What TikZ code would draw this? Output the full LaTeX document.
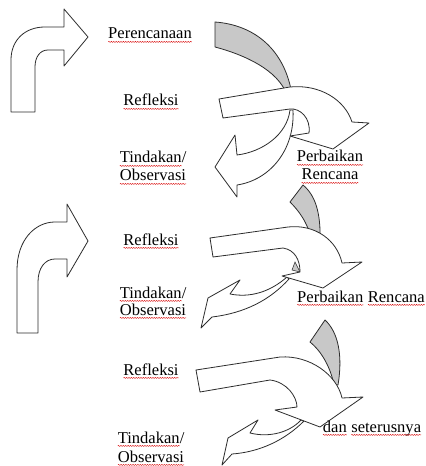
\documentclass[tikz,border=0pt]{standalone}
\usepackage{fontspec}
\setmainfont{Liberation Serif}
\usetikzlibrary{decorations.pathmorphing}
\definecolor{sh}{RGB}{200,200,200}
\definecolor{ol}{RGB}{45,45,45}
\tikzset{
  shp/.style={draw=ol, line width=0.6pt, fill=white, line join=round},
  gshp/.style={shp, fill=sh},
  wavy/.style={red!85!black, line width=0.3pt, decorate, decoration={snake, amplitude=0.4pt, segment length=1.8pt}},
  txt/.style={inner sep=0pt, font=\fontsize{12.4}{14}\selectfont, anchor=base}
}
\newcommand{\wv}[1]{\tikz[baseline=(w.base)]{\node[inner sep=0pt,outer sep=0pt](w){#1};\draw[wavy]([yshift=-2.2pt]w.base west)--([yshift=-2.2pt]w.base east);}}
\begin{document}
\begin{tikzpicture}[x=0.75pt,y=-0.75pt]
\useasboundingbox (0,0) rectangle (425,466);
\fill[white] (0,0) rectangle (425,466);

% left bent arrows
\draw[shp] (11,112) -- (11,60) .. controls (11,40) and (25,27) .. (45,27) -- (64,27) -- (64,9) -- (88,37) -- (64,66) -- (64,50) -- (48,50) .. controls (40,50) and (35,57) .. (35,67) -- (35,112) -- cycle;
\draw[shp] (17,333) -- (17,270) .. controls (17,240) and (35,222) .. (55,222) -- (67,222) -- (67,204) -- (88,241) -- (67,277) -- (67,259) -- (55,259) .. controls (45,259) and (38,268) .. (38,282) -- (38,333) -- cycle;

% group 1
\draw[gshp] (215,22) .. controls (255,25) and (285,50) .. (292,95) -- (287,95) .. controls (278,70) and (245,55) .. (215,47) -- cycle;
\draw[shp] (290,110) .. controls (287,135) and (262,152) .. (237,155) -- (235,135) -- (215,167) -- (237,197) -- (237,185) .. controls (270,180) and (295,150) .. (293,110) -- cycle;
\draw[shp] (219,99) -- (290,87) .. controls (320,84) and (345,100) .. (352,122) -- (369,123) -- (333,149) -- (290,136) -- (309,133) .. controls (311,118) and (300,108) .. (290,109) -- (223,118) -- cycle;

% group 2
\draw[gshp] (290,202) -- (303,185) .. controls (315,195) and (321,212) .. (320,242) -- (312,242) .. controls (308,222) and (298,210) .. (290,202) -- cycle;
\fill[sh, draw=ol, line width=0.4pt] (295,262) -- (300,272) -- (292,270) -- cycle;
\draw[shp] (287,277) .. controls (270,292) and (250,298) .. (230,294) -- (240,280) -- (208,298) -- (201,328) -- (212,317) .. controls (245,313) and (270,300) .. (289,279) -- cycle;
\draw[shp] (210,238) -- (288,227) .. controls (315,224) and (337,240) .. (342,263) -- (362,262) -- (323,288) -- (282,276) -- (300,272) .. controls (300,260) and (295,250) .. (283,248) -- (213,257) -- cycle;

% group 3
\draw[gshp] (310,342) -- (325,320) .. controls (338,332) and (343,355) .. (338,385) -- (334,385) .. controls (330,365) and (320,350) .. (310,342) -- cycle;
\draw[shp] (301,420) .. controls (290,432) and (270,438) .. (250,433) -- (258,420) -- (228,438) -- (222,465) -- (232,454) .. controls (260,452) and (285,440) .. (304,421) -- cycle;
\draw[shp] (196,370) -- (280,357) .. controls (310,355) and (337,375) .. (342,398) -- (363,397) -- (320,427) -- (275,410) -- (297,407) .. controls (297,397) and (287,382) .. (270,380) -- (200,392) -- cycle;

% texts
\node[txt] (pe) at (150,39) {\wv{Perencanaan}};
\node[txt] (r1) at (151,106) {\wv{Refleksi}};
\node[txt] (t1) at (153,163) {\wv{Tindakan}/};
\node[txt] (o1) at (153,181) {\wv{Observasi}};
\node[txt] (pb1) at (330,162) {\wv{Perbaikan}};
\node[txt] (rc1) at (330,180) {\wv{Rencana}};
\node[txt] (r2) at (151,245) {\wv{Refleksi}};
\node[txt] (t2) at (153,298) {\wv{Tindakan}/};
\node[txt] (o2) at (153,315) {\wv{Observasi}};
\node[txt] (pb2) at (361,302) {\wv{Perbaikan} \wv{Rencana}};
\node[txt] (r3) at (151,375) {\wv{Refleksi}};
\node[txt] (t3) at (151,443) {\wv{Tindakan}/};
\node[txt] (o3) at (151,462) {\wv{Observasi}};
\node[txt] (ds) at (372,432) {\wv{dan} \wv{seterusnya}};
\end{tikzpicture}
\end{document}
